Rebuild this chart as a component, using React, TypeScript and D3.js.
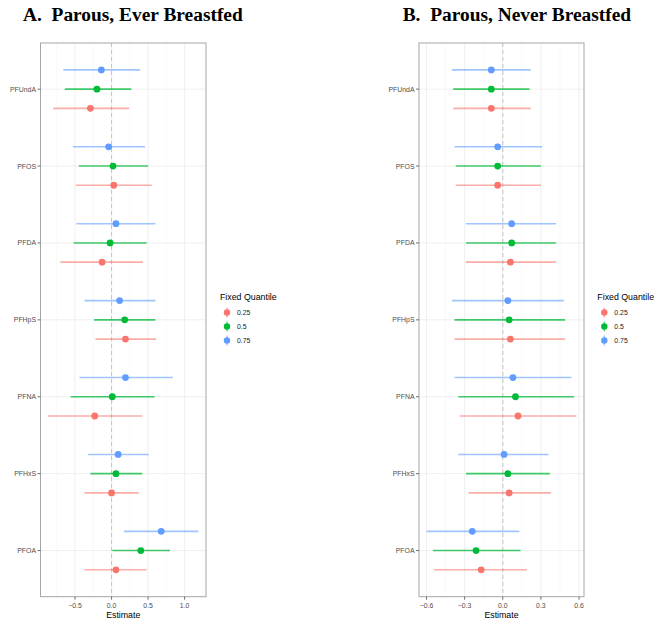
import React from 'react';
import * as d3 from 'd3';

// PFAS names, top to bottom
const chemicals = ['PFUndA', 'PFOS', 'PFDA', 'PFHpS', 'PFNA', 'PFHxS', 'PFOA'];
const quantiles = ['0.25', '0.5', '0.75'];
const quantileColors = ['#F8766D', '#00BA38', '#619CFF'];

// [estimate, lower, upper] per chemical
const everQ25: [number, number, number][] = [
  [-0.29, -0.8, 0.24], [0.03, -0.49, 0.55], [-0.13, -0.7, 0.43], [0.19, -0.22, 0.61],
  [-0.23, -0.87, 0.42], [0.0, -0.37, 0.37], [0.06, -0.37, 0.48],
];
const everQ50: [number, number, number][] = [
  [-0.2, -0.64, 0.27], [0.02, -0.45, 0.5], [-0.02, -0.52, 0.48], [0.18, -0.24, 0.6],
  [0.01, -0.56, 0.59], [0.06, -0.29, 0.42], [0.4, 0.01, 0.8],
];
const everQ75: [number, number, number][] = [
  [-0.14, -0.66, 0.39], [-0.04, -0.53, 0.46], [0.06, -0.48, 0.6], [0.11, -0.37, 0.6],
  [0.19, -0.44, 0.84], [0.09, -0.32, 0.51], [0.68, 0.17, 1.19],
];

const neverQ25: [number, number, number][] = [
  [-0.09, -0.39, 0.22], [-0.04, -0.37, 0.3], [0.06, -0.29, 0.42], [0.06, -0.38, 0.49],
  [0.12, -0.34, 0.58], [0.05, -0.27, 0.38], [-0.17, -0.54, 0.19],
];
const neverQ50: [number, number, number][] = [
  [-0.09, -0.39, 0.21], [-0.04, -0.37, 0.3], [0.07, -0.29, 0.42], [0.05, -0.38, 0.49],
  [0.1, -0.35, 0.56], [0.04, -0.29, 0.37], [-0.21, -0.55, 0.14],
];
const neverQ75: [number, number, number][] = [
  [-0.09, -0.4, 0.22], [-0.04, -0.38, 0.31], [0.07, -0.29, 0.42], [0.04, -0.4, 0.48],
  [0.08, -0.38, 0.54], [0.01, -0.35, 0.36], [-0.24, -0.6, 0.13],
];

const everTicks = [-0.5, 0, 0.5, 1.0];
const neverTicks = [-0.6, -0.3, 0, 0.3, 0.6];

const WIDTH = 669;
const HEIGHT = 628;
const TOP = 43;
const BOTTOM = 596.7;
const SANS = 'Liberation Sans, Arial, sans-serif';

interface PanelProps {
  title: string;
  titleX: number;
  left: number;
  right: number;
  series: [number, number, number][][];
  ticks: number[];
  tickFmt: (v: number) => string;
}

const fmtMinus = (s: string) => s.replace('-', '\u2212');

const Panel: React.FC<PanelProps> = ({ title, titleX, left, right, series, ticks, tickFmt }) => {
  // ggplot-style 5% expansion around data range
  const all = series.flat().flatMap((d) => [d[1], d[2]]);
  const [mn, mx] = d3.extent(all) as [number, number];
  const pad = (mx - mn) * 0.05;
  const x = d3.scaleLinear().domain([mn - pad, mx + pad]).range([left, right]);

  const y = d3.scalePoint<string>().domain(chemicals).range([TOP, BOTTOM]).padding(0.6);
  const step = y.step();
  const dodge = d3.scalePoint<string>().domain(['0.75', '0.5', '0.25']).range([-0.25 * step, 0.25 * step]);

  const minor = ticks.slice(1).map((t, i) => (t + ticks[i]) / 2);
  const tickStep = ticks[1] - ticks[0];
  minor.unshift(ticks[0] - tickStep / 2);
  minor.push(ticks[ticks.length - 1] + tickStep / 2);
  const [d0, d1] = x.domain();

  return (
    <g>
      <text x={titleX} y={20.5} fontFamily="Liberation Serif, Times New Roman, serif" fontWeight="bold"
        fontSize={19.4} style={{ whiteSpace: 'pre' }} fill="#000">{title}</text>
      <rect x={left} y={TOP} width={right - left} height={BOTTOM - TOP} fill="#fff" />
      {minor.filter((t) => t > d0 && t < d1).map((t) => (
        <line key={'mn' + t} x1={x(t)} x2={x(t)} y1={TOP} y2={BOTTOM} stroke="#F2F2F2" strokeWidth={0.5} />
      ))}
      {ticks.map((t) => (
        <line key={'mj' + t} x1={x(t)} x2={x(t)} y1={TOP} y2={BOTTOM} stroke="#EBEBEB" strokeWidth={0.8} />
      ))}
      {chemicals.map((c) => (
        <line key={'hg' + c} x1={left} x2={right} y1={y(c)} y2={y(c)} stroke="#EBEBEB" strokeWidth={0.8} />
      ))}
      <line x1={x(0)} x2={x(0)} y1={TOP} y2={BOTTOM} stroke="#BDBDBD" strokeWidth={0.9} strokeDasharray="4,3" />
      {quantiles.map((q, qi) => (
        <g key={q}>
          {series[qi].map((d, i) => {
            const cy = (y(chemicals[i]) as number) + (dodge(q) as number);
            return (
              <g key={i}>
                <line x1={x(d[1])} x2={x(d[2])} y1={cy} y2={cy} stroke={quantileColors[qi]}
                  strokeWidth={1.6} strokeOpacity={qi === 1 ? 0.75 : 0.6} />
                <circle cx={x(d[0])} cy={cy} r={3.4} fill={quantileColors[qi]} />
              </g>
            );
          })}
        </g>
      ))}
      <rect x={left} y={TOP} width={right - left} height={BOTTOM - TOP} fill="none" stroke="#A6A6A6" strokeWidth={1} />
      {chemicals.map((c) => (
        <g key={'yl' + c}>
          <line x1={left - 3} x2={left} y1={y(c)} y2={y(c)} stroke="#4D4D4D" strokeWidth={0.8} />
          <text x={left - 4.5} y={(y(c) as number) + 2.5} textAnchor="end" fontFamily={SANS} fontSize={6.9} fill="#4D4D4D">{c}</text>
        </g>
      ))}
      {ticks.map((t) => (
        <g key={'xl' + t}>
          <line x1={x(t)} x2={x(t)} y1={BOTTOM} y2={BOTTOM + 3} stroke="#4D4D4D" strokeWidth={0.8} />
          <text x={x(t)} y={BOTTOM + 11} textAnchor="middle" fontFamily={SANS} fontSize={6.9} fill="#4D4D4D">{fmtMinus(tickFmt(t))}</text>
        </g>
      ))}
      <text x={(left + right) / 2} y={BOTTOM + 20.8} textAnchor="middle" fontFamily={SANS} fontSize={8.8} fill="#000">Estimate</text>
    </g>
  );
};

const Legend: React.FC<{ x: number; y: number }> = ({ x, y }) => (
  <g transform={`translate(${x},${y})`}>
    <text x={0} y={0} fontFamily={SANS} fontSize={8.8} fill="#000">Fixed Quantile</text>
    {quantiles.map((q, i) => (
      <g key={q} transform={`translate(0,${12.5 + i * 14})`}>
        <line x1={7} x2={7} y1={-5} y2={5} stroke={quantileColors[i]} strokeWidth={1.4} strokeOpacity={0.6} />
        <circle cx={7} cy={0} r={3.2} fill={quantileColors[i]} />
        <text x={17} y={2.5} fontFamily={SANS} fontSize={6.9} fill="#1A1A1A">{q}</text>
      </g>
    ))}
  </g>
);

export default function App() {
  return (
    <svg width={WIDTH} height={HEIGHT} style={{ position: 'absolute', left: 0, top: 0, background: '#fff' }}>
      <rect width={WIDTH} height={HEIGHT} fill="#fff" />
      <Panel title="A.  Parous, Ever Breastfed" titleX={23} left={40.5} right={206}
        series={[everQ25, everQ50, everQ75]} ticks={everTicks} tickFmt={d3.format('.1f')} />
      <Legend x={220} y={300} />
      <Panel title="B.  Parous, Never Breastfed" titleX={402.7} left={419} right={584}
        series={[neverQ25, neverQ50, neverQ75]} ticks={neverTicks} tickFmt={d3.format('.1f')} />
      <Legend x={597.3} y={300} />
    </svg>
  );
}
